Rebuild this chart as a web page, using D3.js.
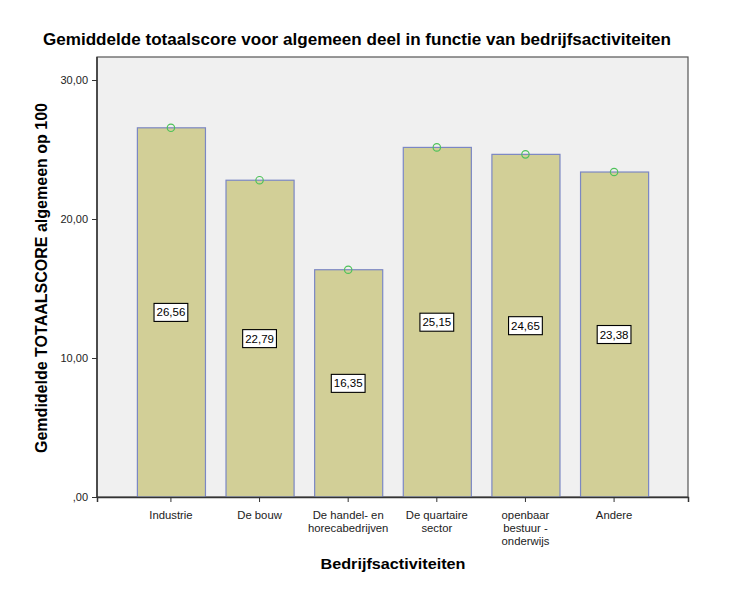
<!DOCTYPE html>
<html><head><meta charset="utf-8">
<script src="https://cdn.jsdelivr.net/npm/d3@7"></script>
<style>body{margin:0;background:#fff;font-family:"Liberation Sans",Arial,sans-serif;}</style>
</head><body>
<svg id="c" width="743" height="591"></svg>
<script>
const categories = [["Industrie"],["De bouw"],["De handel- en","horecabedrijven"],["De quartaire","sector"],["openbaar","bestuur -","onderwijs"],["Andere"]];
const values = [26.56, 22.79, 16.35, 25.15, 24.65, 23.38];
const valueLabels = ["26,56","22,79","16,35","25,15","24,65","23,38"];
const yTicks = [0, 10, 20, 30];
const yTickLabels = [",00","10,00","20,00","30,00"];
const title = "Gemiddelde totaalscore voor algemeen deel in functie van bedrijfsactiviteiten";
const yTitle = "Gemdidelde TOTAALSCORE algemeen op 100";
const xTitle = "Bedrijfsactiviteiten";

const svg = d3.select("#c");
const L = 97, R = 688, T = 57, B = 497;
const ids = categories.map((c,i)=>i);
const x = d3.scaleBand().domain(ids).range([L,R]).paddingInner(0.232).paddingOuter(0.45);
const y = d3.scaleLinear().domain([0,31.4]).range([B, B - 31.4*13.9]);

svg.append("rect").attr("x",L).attr("y",T).attr("width",R-L).attr("height",B-T)
  .attr("fill","#f0f0f0").attr("stroke","#555").attr("stroke-width",1.2);

svg.selectAll("rect.bar").data(values).enter().append("rect").attr("class","bar")
  .attr("x",(d,i)=>x(i)+0.5).attr("y",d=>y(d)).attr("width",x.bandwidth()).attr("height",d=>B-y(d))
  .attr("fill","#d2cf97").attr("stroke","#7b87c4").attr("stroke-width",1.2);

svg.selectAll("circle.m").data(values).enter().append("circle")
  .attr("cx",(d,i)=>x(i)+x.bandwidth()/2).attr("cy",d=>y(d)).attr("r",3.7)
  .attr("fill","none").attr("stroke","#4fc25a").attr("stroke-width",1.2);

// value labels
values.forEach((v,i)=>{
  const g = svg.append("g").attr("transform",`translate(${x(i)+x.bandwidth()/2},${y(v/2)})`);
  const t = g.append("text").attr("text-anchor","middle").attr("dy","0.35em")
    .attr("font-size",11.5).attr("fill","#000").text(valueLabels[i]);
  const bb = t.node().getBBox();
  g.insert("rect","text").attr("x",bb.x-2.5).attr("y",-9).attr("width",bb.width+5).attr("height",18)
    .attr("fill","#fff").attr("stroke","#000").attr("stroke-width",1.1);
});

// y axis
const ya = svg.append("g").attr("transform",`translate(${L},0)`)
  .call(d3.axisLeft(y).tickValues(yTicks).tickSize(5).tickFormat((d,i)=>yTickLabels[i]));
ya.select(".domain").remove();
ya.selectAll("line").attr("stroke","#333");
ya.selectAll("text").attr("font-size",11).attr("font-family","Liberation Sans, Arial").attr("fill","#222").attr("dx","-1");
svg.append("line").attr("x1",L).attr("x2",L).attr("y1",T).attr("y2",B).attr("stroke","#333").attr("stroke-width",1.5);

// x axis
const xa = svg.append("g").attr("transform",`translate(0,${B})`)
  .call(d3.axisBottom(x).tickSize(5).tickFormat(""));
xa.select(".domain").attr("stroke","#333").attr("stroke-width",1.5);
xa.selectAll("line").attr("stroke","#333");
xa.selectAll(".tick").each(function(d){
  const t = d3.select(this).append("text").attr("text-anchor","middle").attr("font-size",11.3)
    .attr("font-family","Liberation Sans, Arial").attr("fill","#222").attr("y",22);
  categories[d].forEach((s,k)=>t.append("tspan").attr("x",0).attr("dy",k?12.8:0).text(s));
});

svg.append("text").attr("x",357).attr("y",45).attr("text-anchor","middle")
  .attr("font-size",17).attr("font-weight","bold").attr("fill","#000")
  .attr("textLength",628).attr("lengthAdjust","spacingAndGlyphs").text(title);
svg.append("text").attr("transform","translate(47,278) rotate(-90)").attr("text-anchor","middle")
  .attr("font-size",16).attr("font-weight","bold").attr("fill","#000")
  .attr("textLength",350).attr("lengthAdjust","spacingAndGlyphs").text(yTitle);
svg.append("text").attr("x",393).attr("y",569).attr("text-anchor","middle")
  .attr("font-size",15.5).attr("font-weight","bold").attr("fill","#000")
  .attr("textLength",145).attr("lengthAdjust","spacingAndGlyphs").text(xTitle);
</script>
</body></html>
